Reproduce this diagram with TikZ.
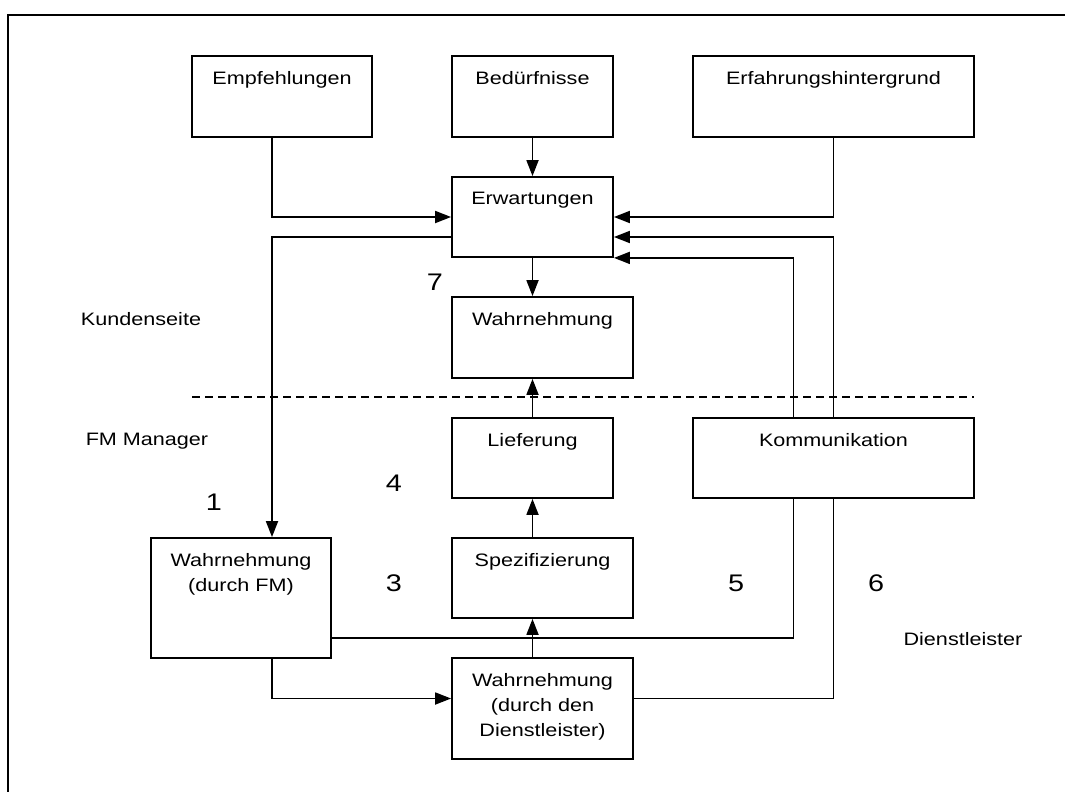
\documentclass[tikz,border=0pt]{standalone}
\usepackage{fontspec}
\setmainfont{Liberation Sans}[FakeStretch=1.2]
\usepackage{tikz}
\usetikzlibrary{arrows.meta,positioning,calc}

\newcommand{\boxfont}{\fontsize{9}{12.5}\selectfont}
\newcommand{\numfont}{\fontsize{12}{14}\selectfont}

\begin{document}
\begin{tikzpicture}[x=0.5pt, y=-0.5pt,
    box/.style={rectangle, draw, line width=0.9pt, inner sep=0pt},
    boxtext/.style={anchor=north, inner sep=0pt, yshift=-7.8pt, align=center, font=\boxfont},
    side/.style={anchor=base, inner sep=0pt, font=\boxfont},
    num/.style={anchor=base, inner sep=0pt, font=\numfont},
    arrow/.style={->, line width=0.9pt, >={Triangle[length=8pt, width=6pt]}},
    conn/.style={line width=0.9pt},
    sep/.style={dash pattern=on 4pt off 2.5pt, line width=0.6pt}]

    \useasboundingbox (0,0) rectangle (1065,792);

    % Frame
    \begin{scope}
        \clip (0,0) rectangle (1065,792);
        \draw[line width=1pt] (8,15) rectangle (1090,820);
    \end{scope}

    % Columns for the connectors
    \coordinate (colA) at (272,0);
    \coordinate (colK1) at (793.5,0);
    \coordinate (colK2) at (833.5,0);
    \coordinate (sepL) at (192,397);
    \coordinate (sepR) at (974,397);

    % Customer side
    \node[box, minimum width=90pt, minimum height=40.5pt, label={[boxtext]north:Empfehlungen}] (emp) at (282,96.5) {};
    \node[box, minimum width=80.5pt, minimum height=40.5pt, label={[boxtext]north:Bedürfnisse}] (bed) at (532.5,96.5) {};
    \node[box, minimum width=140.5pt, minimum height=40.5pt, label={[boxtext]north:Erfahrungshintergrund}] (erf) at (833.5,96.5) {};
    \node[box, minimum width=80.5pt, minimum height=40pt, label={[boxtext]north:Erwartungen}] (erw) at (532.5,217) {};
    \node[box, minimum width=90.5pt, minimum height=40.5pt, label={[boxtext]north:Wahrnehmung}] (wahr) at (542.5,337.5) {};

    % Manager and provider side
    \node[box, minimum width=80.5pt, minimum height=40pt, label={[boxtext]north:Lieferung}] (lief) at (532.5,458) {};
    \node[box, minimum width=140.5pt, minimum height=40pt, label={[boxtext]north:Kommunikation}] (komm) at (833.5,458) {};
    \node[box, minimum width=90pt, minimum height=60pt, label={[boxtext]north:Wahrnehmung\\(durch FM)}] (wfm) at (241,598) {};
    \node[box, minimum width=90.5pt, minimum height=40pt, label={[boxtext]north:Spezifizierung}] (spez) at (542.5,578) {};
    \node[box, minimum width=90.5pt, minimum height=50.5pt, label={[boxtext]north:Wahrnehmung\\(durch den\\Dienstleister)}] (wdl) at (542.5,708.5) {};

    % Side labels
    \node[side] (kunde) at (141,325) {Kundenseite};
    \node[side] (fmm) at (147,445) {FM Manager};
    \node[side] (dienst) at (963,645) {Dienstleister};

    % Gap numbers
    \node[num] (n7) at (435,290) {7};
    \node[num] (n4) at (394,491.7) {4};
    \node[num] (n1) at (214,510) {1};
    \node[num] (n3) at (394,591.7) {3};
    \node[num] (n5) at (736,591.7) {5};
    \node[num] (n6) at (876,591.7) {6};

    % Separator
    \draw[sep] (sepL) -- (sepR);

    % Arrows
    \draw[arrow] (emp.south -| colA) |- (erw.west);
    \draw[arrow] (bed) -- (erw);
    \draw[arrow] (erf) |- (erw.east);
    \draw[arrow] ([yshift=-10pt]erw.west) -| (wfm.north -| colA);
    \draw[arrow] (komm.north -| colK2) |- ([yshift=-10pt]erw.east);
    \draw[arrow] (komm.north -| colK1) |- (erw.south east);
    \draw[arrow] (erw.south) -- (erw.south |- wahr.north);
    \draw[arrow] (lief.north) -- (lief.north |- wahr.south);
    \draw[arrow] (lief.south |- spez.north) -- (lief.south);
    \draw[arrow] (lief.south |- wdl.north) -- (lief.south |- spez.south);
    \draw[arrow] (wfm.south -| colA) |- ([yshift=5pt]wdl.west);
    \draw[conn] ([yshift=-20pt]wfm.east) -| (komm.south -| colK1);
    \draw[conn] ([yshift=5pt]wdl.east) -| (komm.south -| colK2);

\end{tikzpicture}
\end{document}
